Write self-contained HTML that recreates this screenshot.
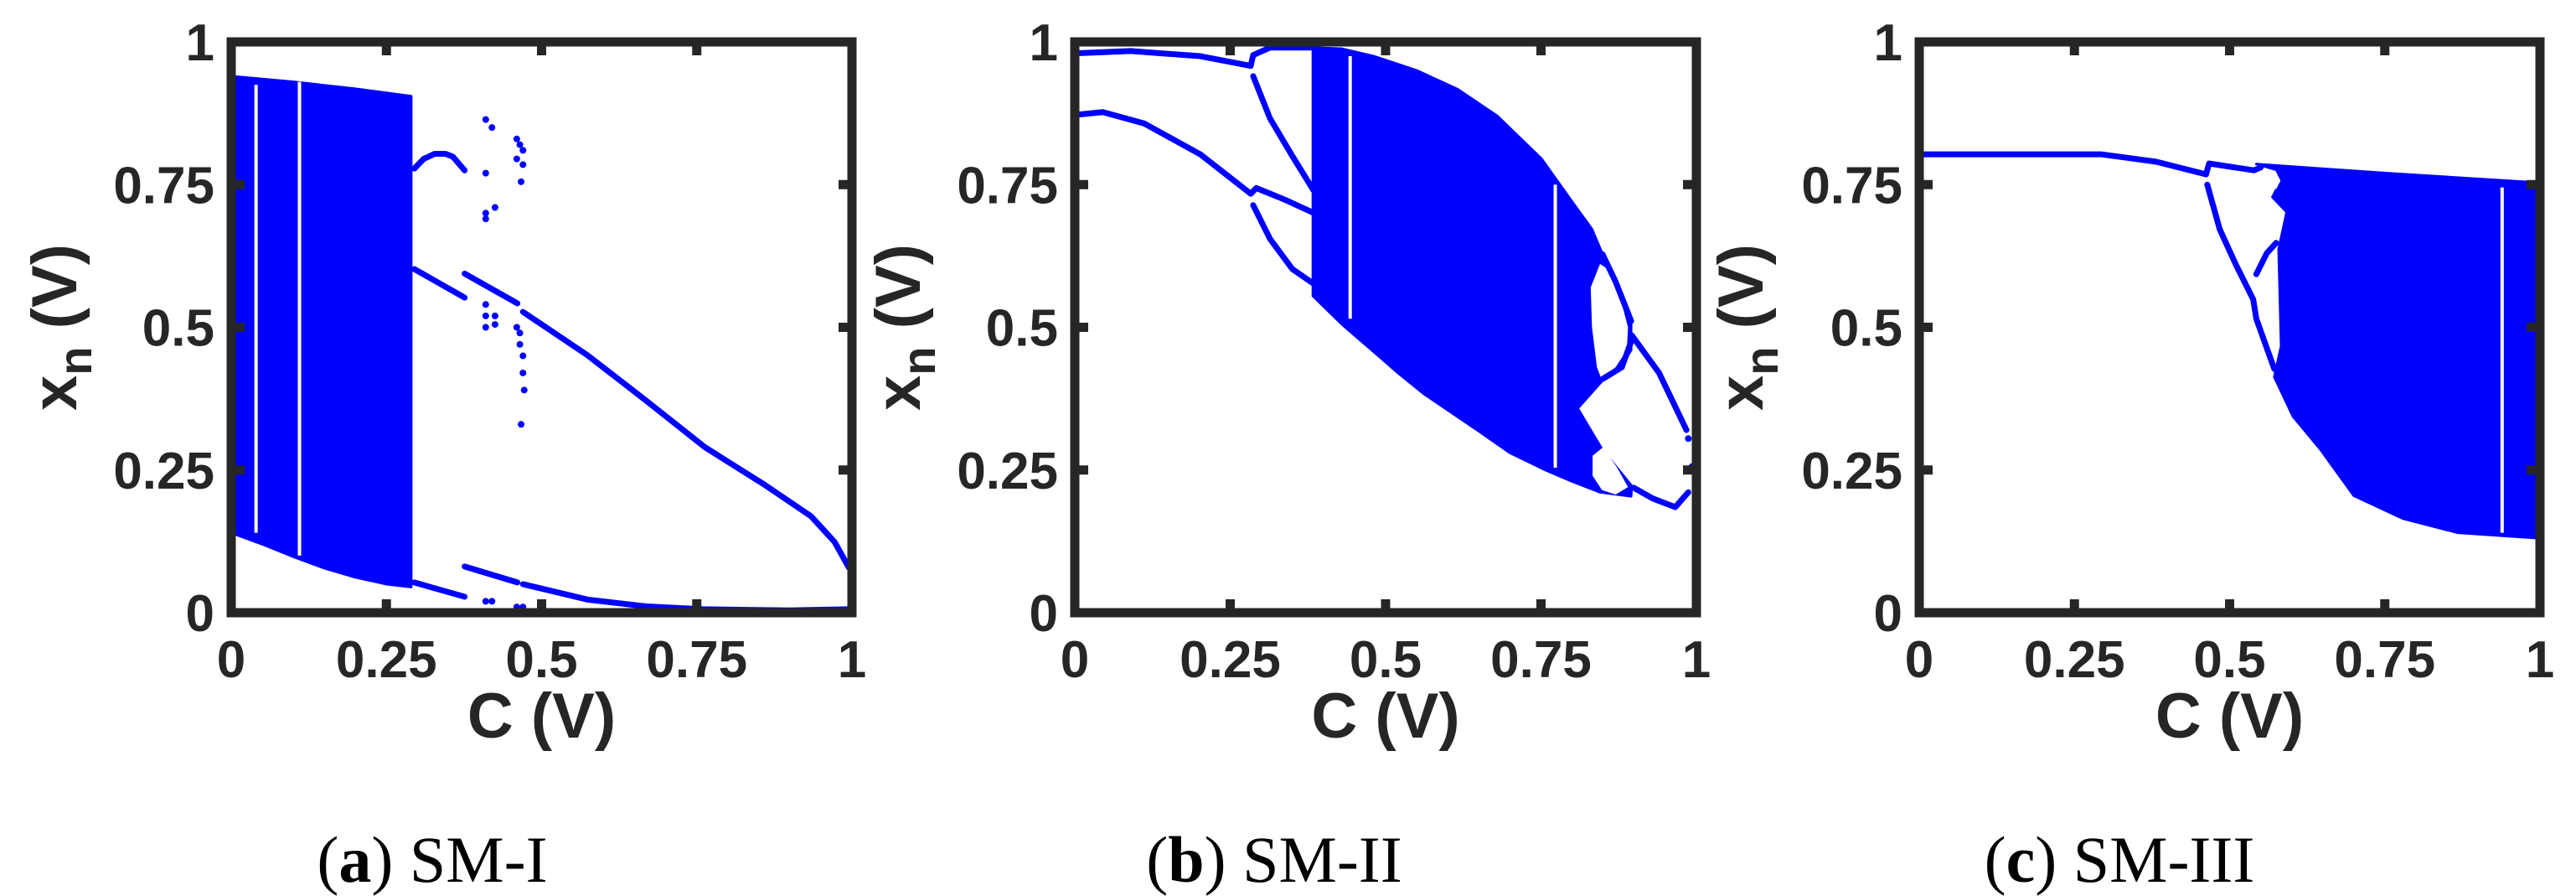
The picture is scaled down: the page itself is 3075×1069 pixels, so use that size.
<!DOCTYPE html>
<html><head><meta charset="utf-8"><style>
html,body{margin:0;padding:0;background:#fff;}
svg{display:block;}
.tk{font-family:"Liberation Sans",Arial,sans-serif;font-weight:bold;font-size:62px;fill:#262626;}
.ax{font-family:"Liberation Sans",Arial,sans-serif;font-weight:bold;font-size:76px;fill:#262626;}
.cap{font-family:"Liberation Serif","Times New Roman",serif;font-size:78px;fill:#000;}
</style></head><body>
<svg id="fig" width="3075" height="1069" viewBox="0 0 3075 1069" xmlns="http://www.w3.org/2000/svg"></svg>
<script>
// ---- shared ticks ----
const tickVals = [0, 0.25, 0.5, 0.75, 1];
const tickLabels = ["0", "0.25", "0.5", "0.75", "1"];

// ---- Panel (a) SM-I ----
const aBandUpper = [[0,0.94],[0.1,0.93],[0.2,0.918],[0.29,0.905]];
const aBandLower = [[0.29,0.045],[0.25,0.05],[0.2,0.062],[0.15,0.078],[0.1,0.098],[0.05,0.12],[0,0.14]];
const aGaps = [[0.04,0.925,0.14],[0.11,0.93,0.10]];
const aBranches = [
  [[0.295,0.778],[0.31,0.795],[0.328,0.804],[0.345,0.804],[0.357,0.799],[0.376,0.775]],
  [[0.295,0.602],[0.376,0.552]],
  [[0.376,0.594],[0.461,0.542]],
  [[0.47,0.527],[0.574,0.451],[0.669,0.371],[0.763,0.29],[0.858,0.225],[0.934,0.169],[0.972,0.124],[0.995,0.079]],
  [[0.295,0.053],[0.376,0.028]],
  [[0.376,0.081],[0.461,0.053]],
  [[0.47,0.05],[0.574,0.023],[0.669,0.011],[0.76,0.006],[0.9,0.004],[0.995,0.006]]
];
const aDots = [[0.41,0.864],[0.42,0.85],[0.41,0.77],[0.41,0.69],[0.41,0.7],[0.425,0.71],[0.46,0.83],[0.465,0.82],[0.47,0.81],[0.46,0.795],[0.47,0.785],[0.467,0.755],[0.41,0.54],[0.41,0.52],[0.425,0.52],[0.41,0.5],[0.425,0.505],[0.46,0.5],[0.465,0.49],[0.465,0.47],[0.47,0.45],[0.47,0.42],[0.472,0.39],[0.467,0.33],[0.41,0.02],[0.42,0.02],[0.46,0.01],[0.47,0.01],[0.998,0.03]];

// ---- Panel (b) SM-II ----
const bBand = [[0.383,0.99],[0.43,0.988],[0.481,0.975],[0.55,0.95],[0.616,0.917],[0.68,0.87],[0.751,0.795],[0.8,0.72],[0.832,0.672],[0.849,0.628],[0.87,0.58],[0.895,0.51],[0.895,0.46],[0.875,0.425],[0.85,0.408],[0.809,0.358],[0.849,0.285],[0.896,0.222],[0.895,0.204],[0.845,0.211],[0.8,0.23],[0.755,0.251],[0.7,0.28],[0.65,0.318],[0.6,0.355],[0.562,0.383],[0.52,0.42],[0.481,0.457],[0.43,0.505],[0.383,0.555]];
const bIslands = [
  [[0.845,0.611],[0.83,0.57],[0.832,0.5],[0.84,0.43],[0.847,0.41],[0.87,0.43],[0.888,0.46],[0.89,0.5],[0.878,0.55],[0.86,0.6]],
  [[0.833,0.275],[0.85,0.29],[0.872,0.255],[0.89,0.22],[0.87,0.207],[0.848,0.215],[0.833,0.24]]
];
const bGaps = [[0.443,0.975,0.515],[0.773,0.75,0.254]];
const bBranches = [
  [[0,0.98],[0.09,0.984],[0.202,0.975],[0.283,0.958]],
  [[0.283,0.958],[0.287,0.977],[0.314,0.99],[0.386,0.99]],
  [[0.287,0.94],[0.314,0.866],[0.35,0.8],[0.384,0.74]],
  [[0,0.872],[0.045,0.877],[0.112,0.857],[0.202,0.803],[0.283,0.734]],
  [[0.283,0.734],[0.292,0.744],[0.337,0.724],[0.395,0.695]],
  [[0.287,0.714],[0.314,0.655],[0.35,0.602],[0.382,0.578]],
  [[0.849,0.628],[0.87,0.58],[0.895,0.511]],
  [[0.896,0.486],[0.94,0.42],[0.984,0.32]],
  [[0.895,0.475],[0.88,0.43],[0.85,0.41]],
  [[0.899,0.219],[0.93,0.2],[0.966,0.185],[0.987,0.211]]
];
const bDots = [[0.987,0.305],[0.993,0.256],[0.997,0.25]];

// ---- Panel (c) SM-III ----
const cBand = [[0.543,0.786],[0.754,0.77],[1.005,0.753],[1.005,0.13],[0.868,0.14],[0.779,0.165],[0.7,0.205],[0.647,0.285],[0.602,0.344],[0.572,0.413],[0.583,0.467],[0.579,0.637],[0.592,0.702],[0.569,0.728],[0.583,0.758],[0.575,0.776]];
const cIslands = [[[0.553,0.777],[0.562,0.757],[0.575,0.742],[0.582,0.757],[0.574,0.774]]];
const cGaps = [[0.939,0.745,0.14]];
const cBranches = [
  [[0,0.803],[0.294,0.803],[0.382,0.79],[0.462,0.768]],
  [[0.462,0.768],[0.467,0.787],[0.539,0.775],[0.55,0.78]],
  [[0.464,0.75],[0.484,0.672],[0.51,0.61],[0.538,0.549],[0.543,0.515],[0.572,0.427]],
  [[0.543,0.593],[0.56,0.63],[0.575,0.648]]
];
const cDots = [];

// ---- layout ----
const panels = [
  {id:"a", x0:276, x1:1017, band:[aBandUpper.concat(aBandLower)], islands:[], gaps:aGaps, branches:aBranches, dots:aDots, capX:516, capL:"a", capR:" SM-I", ylabX:91},
  {id:"b", x0:1283, x1:2025, band:[bBand], islands:bIslands, gaps:bGaps, branches:bBranches, dots:bDots, capX:1521, capL:"b", capR:" SM-II", ylabX:1098},
  {id:"c", x0:2291, x1:3032, band:[cBand], islands:cIslands, gaps:cGaps, branches:cBranches, dots:cDots, capX:2530, capL:"c", capR:" SM-III", ylabX:2104}
];
const Y0 = 731, Y1 = 50;
const NS = "http://www.w3.org/2000/svg";
const fig = document.getElementById("fig");
function mk(tag, attrs, parent){ const e=document.createElementNS(NS,tag); for(const k in attrs) e.setAttribute(k,attrs[k]); (parent||fig).appendChild(e); return e; }

panels.forEach(p=>{
  const sx = c => p.x0 + c*(p.x1-p.x0);
  const sy = v => Y0 - v*(Y0-Y1);
  const g = mk("g",{});
  
  
  p.band.forEach(poly=>{
    const e = mk("polygon",{points:poly.map(q=>sx(q[0])+","+sy(q[1])).join(" "),fill:"#0000ff",stroke:"#0000ff","stroke-width":3,"stroke-linejoin":"round"},g);
    
    
  });
  p.islands.forEach(poly=>{
    const e = mk("polygon",{points:poly.map(q=>sx(q[0])+","+sy(q[1])).join(" "),fill:"#fff"},g);
    
    
  });
  p.gaps.forEach(q=>{
    const e = mk("line",{x1:sx(q[0]),x2:sx(q[0]),y1:sy(q[1]),y2:sy(q[2]),stroke:"#fff","stroke-width":4},g);
    
    
  });
  p.branches.forEach(br=>{
    const e = mk("polyline",{points:br.map(q=>sx(q[0])+","+sy(q[1])).join(" "),fill:"none",stroke:"#0000ff","stroke-width":7,"stroke-linejoin":"round","stroke-linecap":"round"},g);
    
    
  });
  p.dots.forEach(q=>{
    const e = mk("circle",{cx:sx(q[0]),cy:sy(q[1]),r:4,fill:"#0000ff"},g);
    
    
  });
  const fr = mk("rect",{x:p.x0,y:Y1,width:p.x1-p.x0,height:Y0-Y1,fill:"none",stroke:"#262626","stroke-width":11},g);
  
  
  tickVals.forEach((t,i)=>{
    if(t>0 && t<1){
      [[sx(t),Y0,sx(t),Y0-16],[sx(t),Y1,sx(t),Y1+16],[p.x0,sy(t),p.x0+16,sy(t)],[p.x1,sy(t),p.x1-16,sy(t)]].forEach(L=>{
        const e = mk("line",{x1:L[0],y1:L[1],x2:L[2],y2:L[3],stroke:"#262626","stroke-width":11},g);
        
        
      });
    }
    const xl = mk("text",{x:sx(t),y:808,"text-anchor":"middle",class:"tk"},g);
    xl.textContent = tickLabels[i];
    
    
    const yl = mk("text",{x:p.x0-20,y:sy(t)+22,"text-anchor":"end",class:"tk"},g);
    yl.textContent = tickLabels[i];
    
    
  });
  const xt = mk("text",{x:(p.x0+p.x1)/2,y:880,"text-anchor":"middle",class:"ax"},g);
  xt.textContent = "C (V)";
  
  
  const yt = mk("text",{x:0,y:0,"text-anchor":"middle",class:"ax",transform:"translate("+p.ylabX+","+((Y0+Y1)/2)+") rotate(-90)"},g);
  yt.innerHTML = 'x<tspan dy="18" font-size="56">n</tspan><tspan dy="-18"> (V)</tspan>';
  
  
  const cp = mk("text",{x:p.capX,y:1052,"text-anchor":"middle",class:"cap"},g);
  cp.innerHTML = '(<tspan font-weight="bold">'+p.capL+'</tspan>)'+p.capR;
  
  
});
</script>
</body></html>
